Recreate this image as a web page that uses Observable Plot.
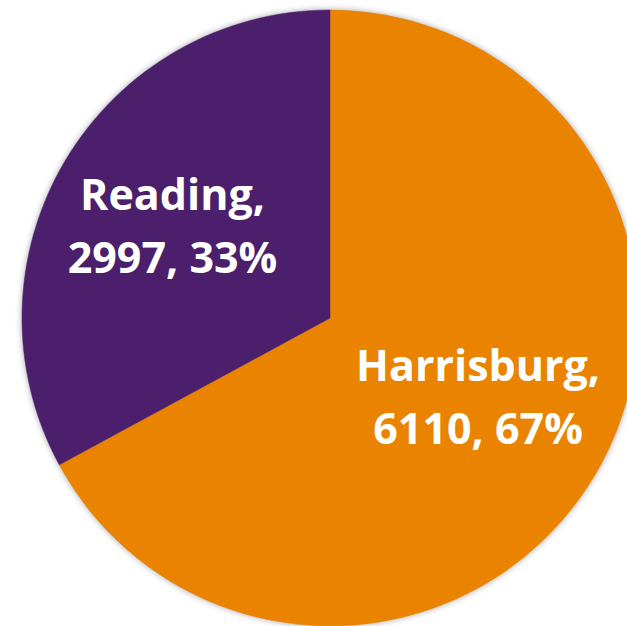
<!DOCTYPE html>
<html>
<head>
<meta charset="utf-8">
<script src="https://cdn.jsdelivr.net/npm/d3@7"></script>
<script src="https://cdn.jsdelivr.net/npm/@observablehq/plot@0.6"></script>
<style>
  html, body { margin: 0; padding: 0; background: #fff; overflow: hidden; }
  #chart svg { display: block; }
</style>
</head>
<body>
<div id="chart"></div>
<script>
// Data
const categories = ["Harrisburg", "Reading"];
const values = [6110, 2997];
const percents = ["67%", "33%"];
const colors = ["#E98300", "#4B1F6C"];

const rows = categories.map((c, i) => ({ name: c, value: values[i], pct: percents[i], color: colors[i] }));

// pie layout: start at 12 o'clock, clockwise, Harrisburg first
const pie = d3.pie().value(d => d.value).sort(null).startAngle(0).endAngle(2 * Math.PI);
const arcs = pie(rows);

// label placement (unit circle): radius fraction along mid-angle plus a small shift
const labelPos = { Harrisburg: { r: 0.546, dx: 0.01, dy: 0.04 }, Reading: { r: 0.597, dx: 0, dy: 0.01 } };
const labels = arcs.map(a => {
  const mid = (a.startAngle + a.endAngle) / 2;
  const p = labelPos[a.data.name];
  return { x: Math.sin(mid) * p.r + p.dx, y: Math.cos(mid) * p.r + p.dy, text: `${a.data.name},\n${a.data.value}, ${a.data.pct}` };
});

const W = 627, H = 626;
const cx = 330, cy = 318, R = 308;

function slices(index, scales) {
  const x0 = scales.x(0), y0 = scales.y(0);
  const rad = scales.x(1) - scales.x(0);
  const arc = d3.arc().innerRadius(0).outerRadius(rad);
  const g = d3.create("svg:g")
    .attr("transform", `translate(${x0},${y0})`)
    .style("filter", "drop-shadow(0px 0px 3px rgba(0,0,0,0.35))");
  g.selectAll("path").data(arcs).join("path")
    .attr("d", arc)
    .attr("fill", d => d.data.color)
    .attr("stroke", d => d.data.color)
    .attr("stroke-width", 0.5);
  return g.node();
}

const chart = Plot.plot({
  width: W,
  height: H,
  margin: 0,
  x: { domain: [-cx / R, (W - cx) / R], range: [0, W], axis: null },
  y: { domain: [-(H - cy) / R, cy / R], range: [H, 0], axis: null },
  style: { background: "#fff", overflow: "hidden" },
  marks: [
    slices,
    Plot.text(labels, {
      x: "x", y: "y", text: "text",
      fill: "#fff",
      fontSize: 43,
      fontWeight: "bold",
      fontFamily: "'Open Sans', sans-serif",
      lineHeight: 1.46,
      textAnchor: "middle"
    })
  ]
});
document.getElementById("chart").appendChild(chart);
</script>
</body>
</html>
